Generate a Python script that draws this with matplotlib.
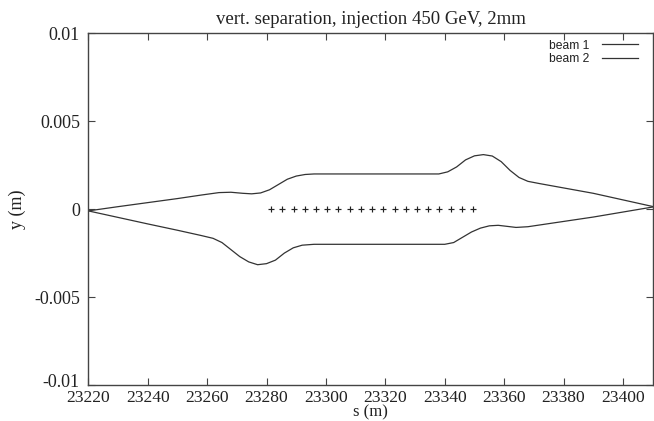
import numpy as np
import matplotlib
matplotlib.use('Agg')
import matplotlib.pyplot as plt
from matplotlib.ticker import FuncFormatter
from matplotlib.transforms import ScaledTranslation

# beam orbits (s in m, y in m)
s_beam1 = [23220, 23230, 23240, 23250, 23258, 23264, 23268, 23272, 23275, 23278,
           23281, 23284, 23287, 23290, 23293, 23296, 23338, 23341, 23344, 23347,
           23350, 23353, 23356, 23359, 23362, 23365, 23368, 23372, 23390, 23410]
y_beam1 = [-0.0001, 0.00014, 0.00037, 0.0006, 0.0008, 0.00094, 0.00096, 0.0009, 0.00087, 0.00092,
           0.0011, 0.0014, 0.0017, 0.00188, 0.00197, 0.002, 0.002, 0.00212, 0.0024, 0.0028,
           0.00303, 0.0031, 0.00302, 0.0027, 0.0022, 0.0018, 0.00158, 0.00145, 0.0009, 0.00015]

s_beam2 = [23220, 23230, 23240, 23250, 23258, 23262, 23265, 23268, 23271, 23274,
           23277, 23280, 23283, 23286, 23289, 23292, 23296, 23340, 23343, 23346,
           23349, 23352, 23355, 23358, 23361, 23364, 23368, 23390, 23410]
y_beam2 = [-0.0001, -0.00047, -0.00084, -0.0012, -0.0015, -0.00166, -0.0019, -0.0023, -0.0027, -0.003,
           -0.00316, -0.0031, -0.0029, -0.0025, -0.0022, -0.00205, -0.002, -0.002, -0.0019, -0.0016,
           -0.0013, -0.00108, -0.00095, -0.00092, -0.00098, -0.00104, -0.001, -0.00045, 0.00012]

# marker positions on the axis
s_marks = [23281.5, 23285.3, 23289.1, 23292.8, 23296.6, 23300.4, 23304.2, 23308.0, 23311.7, 23315.5,
           23319.3, 23323.1, 23326.9, 23330.6, 23334.4, 23338.2, 23342.0, 23345.8, 23349.5]
y_marks = [0.0] * len(s_marks)

xticks = [23220, 23240, 23260, 23280, 23300, 23320, 23340, 23360, 23380, 23400]
yticks = [-0.01, -0.005, 0, 0.005, 0.01]

serif = ['Liberation Serif', 'DejaVu Serif']
ink = '#333333'
fig = plt.figure(figsize=(6.54, 4.21), dpi=100)
fig.set_facecolor('white')
ax = fig.add_axes([0.135, 0.0855, 0.863, 0.8355])

ax.plot(s_beam1, y_beam1, color=ink, lw=0.9, label='beam 1')
ax.plot(s_beam2, y_beam2, color=ink, lw=0.9, label='beam 2')
ax.plot(s_marks, y_marks, '+', color='#222222', ms=4.2, mew=0.85)

ax.set_xlim(23220, 23410)
ax.set_ylim(-0.01, 0.01)
ax.set_xticks(xticks)
ax.set_yticks(yticks)
ax.yaxis.set_major_formatter(FuncFormatter(lambda v, p: '%g' % v if abs(v) > 1e-12 else '0'))
ax.xaxis.set_major_formatter(FuncFormatter(lambda v, p: '%d' % v))

for sp in ax.spines.values():
    sp.set_color('#444444')
    sp.set_linewidth(1.0)
ax.tick_params(direction='in', top=True, right=True, length=5, width=0.8, color='#444444')
ax.tick_params(axis='x', pad=3.5, labelsize=12.6)
ax.tick_params(axis='y', pad=6, labelsize=13)
for lab in ax.get_xticklabels() + ax.get_yticklabels():
    lab.set_family(serif)
    lab.set_color('#222222')

# lift the bottom y label a little, like the original
ylabs = ax.get_yticklabels()
ylabs[0].set_transform(ylabs[0].get_transform() + ScaledTranslation(0, 3 / 72, fig.dpi_scale_trans))

ax.set_title('vert. separation, injection 450 GeV, 2mm', family=serif, fontsize=13.5,
             color='#222222', pad=7)
ax.set_xlabel('s (m)', family=serif, fontsize=12, color='#222222', labelpad=-1)
ax.set_ylabel('y (m)', family=serif, fontsize=13, color='#222222', labelpad=6)

leg = ax.legend(loc='upper right', bbox_to_anchor=(0.974, 0.982), frameon=False,
                markerfirst=False, handlelength=3.0, handletextpad=1.0, labelspacing=0.15,
                borderaxespad=0, borderpad=0,
                prop={'family': ['Liberation Sans', 'DejaVu Sans'], 'size': 8.7})
for t in leg.get_texts():
    t.set_color('#222222')

fig.savefig('out.png', dpi=100)
